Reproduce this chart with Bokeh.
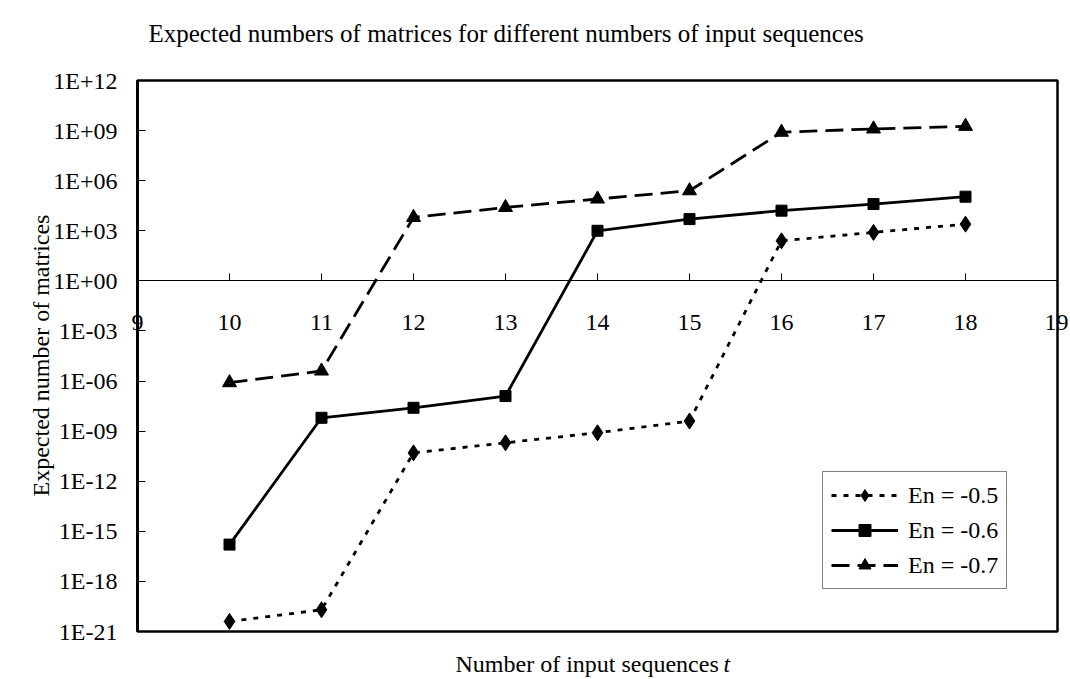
import math
from bokeh.plotting import figure
from bokeh.models import (Range1d, FixedTicker, CustomJSTickFormatter, Legend,
                          LegendItem, Label, LinearAxis, LogAxis)
from bokeh.embed import file_html
from bokeh.resources import INLINE

# ---- data ----
t_values = [10, 11, 12, 13, 14, 15, 16, 17, 18]
en_05 = [4e-21, 2e-20, 5e-11, 2e-10, 8e-10, 4e-9, 2.5e2, 8e2, 2.5e3]
en_06 = [1.6e-16, 6.3e-9, 2.5e-8, 1.26e-7, 1e3, 5e3, 1.6e4, 4e4, 1.1e5]
en_07 = [8e-7, 4e-6, 6.3e3, 2.5e4, 8e4, 2.5e5, 8e8, 1.26e9, 1.8e9]
x_ticks = [9, 10, 11, 12, 13, 14, 15, 16, 17, 18, 19]
y_exponents = [-21, -18, -15, -12, -9, -6, -3, 0, 3, 6, 9, 12]
series_labels = ["En = -0.5", "En = -0.6", "En = -0.7"]
x_min, x_max = 9, 19
y_min, y_max = 1e-21, 1e12

FONT = "Liberation Serif"

# ---- layout (pixels); the frame covers the whole canvas ----
W, H = 1068, 677
LEFT, RIGHT, TOP, BOTTOM = 137, 1057, 80, 631   # plot-area box
px_per_unit = (RIGHT - LEFT) / (x_max - x_min)
px_per_decade = (BOTTOM - TOP) / (math.log10(y_max) - math.log10(y_min))
x_start = x_min - LEFT / px_per_unit
x_end = x_max + (W - RIGHT) / px_per_unit
y_start = 10 ** (math.log10(y_min) - (H - BOTTOM) / px_per_decade)
y_end = 10 ** (math.log10(y_max) + TOP / px_per_decade)

p = figure(width=W, height=H, y_axis_type="log",
           x_range=Range1d(x_start, x_end), y_range=Range1d(y_start, y_end),
           x_axis_location=None, y_axis_location=None,
           output_backend="svg", toolbar_location=None,
           min_border_left=0, min_border_right=0,
           min_border_top=0, min_border_bottom=0)

p.grid.visible = False
p.outline_line_color = None
p.background_fill_color = "white"
p.border_fill_color = "white"

# plot-area border
p.quad(left=[x_min], right=[x_max], bottom=[y_min], top=[y_max],
       fill_color=None, line_color="black", line_width=2.5)

# y axis at x = 9
ya = LogAxis(fixed_location=x_min, bounds=(y_min, y_max))
ya.ticker = FixedTicker(ticks=[10.0 ** e for e in y_exponents])
ya.formatter = CustomJSTickFormatter(code="""
const e = Math.round(Math.log10(tick));
const a = Math.abs(e);
return '1E' + (e < 0 ? '-' : '+') + (a < 10 ? '0' : '') + a;
""")
ya.axis_line_width = 3
ya.axis_line_color = "black"
ya.major_tick_in = 8
ya.major_tick_out = 0
ya.minor_tick_in = 0
ya.minor_tick_out = 0
ya.major_tick_line_color = "black"
ya.major_label_text_font = FONT
ya.major_label_text_font_size = "24px"
ya.major_label_text_color = "black"
ya.major_label_standoff = 20
p.add_layout(ya, "left")

# x axis at y = 1
xa = LinearAxis(fixed_location=1, bounds=(x_min, x_max))
xa.ticker = FixedTicker(ticks=x_ticks)
xa.axis_line_width = 1
xa.axis_line_color = "black"
xa.major_tick_in = 7
xa.major_tick_out = 0
xa.minor_tick_in = 0
xa.minor_tick_out = 0
xa.major_tick_line_color = "black"
xa.major_label_text_font = FONT
xa.major_label_text_font_size = "24px"
xa.major_label_text_color = "black"
xa.major_label_standoff = 34
p.add_layout(xa, "below")

# series
r05 = p.line(t_values, en_05, line_color="black", line_width=2.8, line_dash="5 7")
s05 = p.scatter(t_values, en_05, marker="diamond", size=16, color="black")
r06 = p.line(t_values, en_06, line_color="black", line_width=2.8)
s06 = p.scatter(t_values, en_06, marker="square", size=11, color="black")
r07 = p.line(t_values, en_07, line_color="black", line_width=2.8, line_dash="18 8")
s07 = p.scatter(t_values, en_07, marker="triangle", size=14, color="black")

legend = Legend(items=[
    LegendItem(label=series_labels[0], renderers=[r05, s05]),
    LegendItem(label=series_labels[1], renderers=[r06, s06]),
    LegendItem(label=series_labels[2], renderers=[r07, s07]),
], location=(822, H - 589))
legend.label_text_font = FONT
legend.label_text_font_size = "24px"
legend.label_text_color = "black"
legend.glyph_width = 67
legend.glyph_height = 30
legend.label_height = 30
legend.label_standoff = 10
legend.spacing = 5
legend.padding = 8
legend.margin = 0
legend.border_line_color = "black"
legend.border_line_width = 1
legend.background_fill_color = "white"
p.add_layout(legend, "center")

# texts
p.add_layout(Label(x=148, y=H - 33, x_units="screen", y_units="screen",
                   text="Expected numbers of matrices for different numbers of input sequences",
                   text_font=FONT, text_font_size="25px", text_align="left",
                   text_baseline="middle", text_color="black"))
p.add_layout(Label(x=40, y=H - 355, x_units="screen", y_units="screen",
                   angle=math.pi / 2, text="Expected number of matrices",
                   text_font=FONT, text_font_size="24px", text_align="center",
                   text_baseline="middle", text_color="black"))
p.add_layout(Label(x=455, y=H - 663, x_units="screen", y_units="screen",
                   text="Number of input sequences",
                   text_font=FONT, text_font_size="24px", text_align="left",
                   text_baseline="middle", text_color="black"))
p.add_layout(Label(x=723, y=H - 663, x_units="screen", y_units="screen",
                   text="t", text_font=FONT, text_font_style="italic",
                   text_font_size="24px", text_align="left",
                   text_baseline="middle", text_color="black"))

open("out.html", "w").write(file_html(p, INLINE))
